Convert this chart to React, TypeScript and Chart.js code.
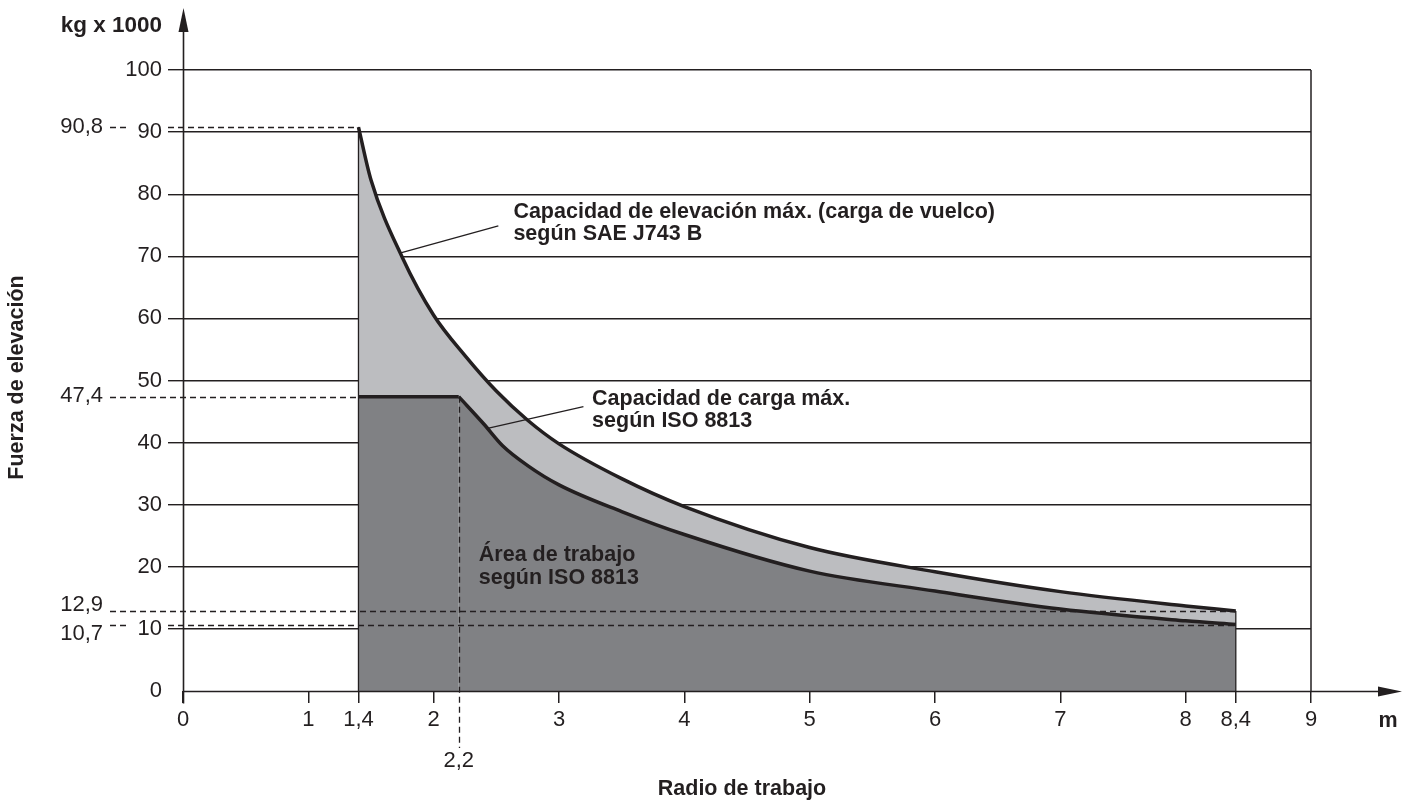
import { useEffect, useRef } from 'react';
import { Chart, registerables } from 'chart.js';

Chart.register(...registerables);

// ---- data ----
const radioUpper = [1.4, 1.5, 1.75, 2.0, 2.25, 2.5, 2.75, 3.0, 3.5, 4.0, 5.0, 6.0, 7.0, 8.0, 8.4];
const fuerzaUpper = [90.8, 82.3, 69.8, 60.5, 54.0, 48.3, 43.6, 39.8, 34.2, 29.7, 23.1, 19.2, 16.0, 13.7, 12.9];
const radioFlat = [1.4, 2.2];
const fuerzaFlat = [47.4, 47.4];
const radioLower = [2.2, 2.4, 2.55, 2.75, 3.0, 3.5, 4.0, 5.0, 6.0, 7.0, 8.0, 8.4];
const fuerzaLower = [47.4, 43.0, 39.5, 36.3, 33.2, 28.9, 25.2, 19.3, 16.1, 13.2, 11.3, 10.7];
const xTickValues = [0, 1, 1.4, 2, 3, 4, 5, 6, 7, 8, 8.4, 9];
const refForces = [90.8, 47.4, 12.9, 10.7];
const refRadii = [1.4, 1.4, 8.4, 8.4];
const refRadius = 2.2;

const INK = '#231f20';
const DARK = '#808184';
const LIGHT = '#bcbdc0';
const FONT = '"Liberation Sans", Arial, Helvetica, sans-serif';

const fmt = (v: number) => String(v).replace('.', ',');
const pts = (xs: number[], ys: number[]) => xs.map((x, i) => ({ x, y: ys[i] }));

const overlay = {
  id: 'overlay',
  afterDatasetsDraw(chart: any) {
    const { ctx } = chart;
    const xs = chart.scales.x;
    const ys = chart.scales.y;
    const px = (v: number) => xs.getPixelForValue(v);
    const py = (v: number) => ys.getPixelForValue(v);
    const seg = (x1: number, y1: number, x2: number, y2: number) => {
      ctx.beginPath();
      ctx.moveTo(x1, y1);
      ctx.lineTo(x2, y2);
      ctx.stroke();
    };
    ctx.save();
    ctx.strokeStyle = INK;
    // thin vertical edges of the area
    ctx.lineWidth = 1.3;
    seg(px(radioUpper[0]), py(0), px(radioUpper[0]), py(fuerzaUpper[0]));
    const last = radioUpper.length - 1;
    seg(px(radioUpper[last]), py(0), px(radioUpper[last]), py(fuerzaUpper[last]));
    // right border at 9
    ctx.lineWidth = 1.5;
    seg(px(9), py(100), px(9), py(0));

    // dashed reference lines
    ctx.setLineDash([6, 4]);
    ctx.lineWidth = 1.3;
    const left = xs.left;
    refForces.forEach((f, i) => {
      const yy = Math.round(py(f)) + 0.5;
      const broken = i === 0 || i === 3;
      if (broken) {
        seg(left - 73, yy, left - 53, yy);
        seg(left - 15, yy, px(refRadii[i]), yy);
      } else {
        seg(left - 73, yy, px(refRadii[i]), yy);
      }
    });
    const xv = Math.round(px(refRadius)) + 0.5;
    seg(xv, py(fuerzaFlat[1]), xv, py(0) + 57);
    ctx.setLineDash([]);

    // labels for reference values
    ctx.fillStyle = INK;
    ctx.font = `22px ${FONT}`;
    ctx.textAlign = 'right';
    ctx.textBaseline = 'middle';
    const offs = [0, -1, -6, 9];
    refForces.forEach((f, i) => {
      ctx.fillText(fmt(f), left - 80, py(f) + offs[i]);
    });
    ctx.textAlign = 'center';
    ctx.fillText(fmt(refRadius), px(refRadius), py(0) + 70);

    // leader lines
    ctx.lineWidth = 1.3;
    seg(px(1.73), py(70.5), px(2.516), py(74.9));
    seg(px(2.43), py(42.3), px(3.195), py(45.8));

    // annotations
    ctx.font = `bold 21.5px ${FONT}`;
    ctx.textAlign = 'left';
    ctx.textBaseline = 'alphabetic';
    const a1x = px(2.636), a1y = py(76.1);
    ctx.fillText('Capacidad de elevación máx. (carga de vuelco)', a1x, a1y);
    ctx.fillText('según SAE J743 B', a1x, a1y + 22);
    const a2x = px(3.264), a2y = py(46.05);
    ctx.fillText('Capacidad de carga máx.', a2x, a2y);
    ctx.fillText('según ISO 8813', a2x, a2y + 22);
    const a3x = px(2.36), a3y = py(21.0);
    ctx.fillText('Área de trabajo', a3x, a3y);
    ctx.fillText('según ISO 8813', a3x, a3y + 23);
    ctx.restore();
  },
  afterDraw(chart: any) {
    const { ctx } = chart;
    const xs = chart.scales.x;
    const ys = chart.scales.y;
    const x0 = Math.round(xs.getPixelForValue(0)) + 0.5;
    const y0 = Math.round(ys.getPixelForValue(0)) + 0.5;
    ctx.save();
    ctx.strokeStyle = INK;
    ctx.fillStyle = INK;
    ctx.lineWidth = 1.6;
    // y axis with arrow
    ctx.beginPath();
    ctx.moveTo(x0, y0 + 12);
    ctx.lineTo(x0, 30);
    ctx.stroke();
    ctx.beginPath();
    ctx.moveTo(x0, 8);
    ctx.lineTo(x0 - 5, 32);
    ctx.lineTo(x0 + 5, 32);
    ctx.closePath();
    ctx.fill();
    // x axis with arrow
    ctx.beginPath();
    ctx.moveTo(x0, y0);
    ctx.lineTo(1380, y0);
    ctx.stroke();
    ctx.beginPath();
    ctx.moveTo(1402, y0);
    ctx.lineTo(1378, y0 - 5);
    ctx.lineTo(1378, y0 + 5);
    ctx.closePath();
    ctx.fill();

    // axis titles
    ctx.font = `bold 22.5px ${FONT}`;
    ctx.textAlign = 'right';
    ctx.textBaseline = 'middle';
    ctx.fillText('kg x 1000', 162, 26);
    ctx.font = `bold 21.5px ${FONT}`;
    ctx.textAlign = 'center';
    ctx.fillText('Radio de trabajo', (xs.left + xs.right) / 2 - 5, 789);
    ctx.fillText('m', 1388, 721);
    ctx.save();
    ctx.translate(17, (ys.top + ys.bottom) / 2 - 3);
    ctx.rotate(-Math.PI / 2);
    ctx.fillText('Fuerza de elevación', 0, 0);
    ctx.restore();
    ctx.restore();
  },
};

export default function App() {
  const ref = useRef<HTMLCanvasElement | null>(null);
  useEffect(() => {
    if (!ref.current) return;
    const chart = new Chart(ref.current, {
      type: 'line',
      data: {
        datasets: [
          {
            label: 'flat',
            data: pts(radioFlat, fuerzaFlat),
            borderColor: INK,
            borderWidth: 3.5,
            backgroundColor: DARK,
            fill: 'origin',
            pointRadius: 0,
            tension: 0,
          },
          {
            label: 'lower',
            data: pts(radioLower, fuerzaLower),
            borderColor: INK,
            borderWidth: 3.5,
            backgroundColor: DARK,
            fill: 'origin',
            pointRadius: 0,
            cubicInterpolationMode: 'monotone',
          },
          {
            label: 'upper',
            data: pts(radioUpper, fuerzaUpper),
            borderColor: INK,
            borderWidth: 3.5,
            backgroundColor: LIGHT,
            fill: 'origin',
            pointRadius: 0,
            cubicInterpolationMode: 'monotone',
          },
        ],
      },
      options: {
        responsive: false,
        animation: false,
        devicePixelRatio: 1,
        layout: { padding: { left: 0, right: 101, top: 70, bottom: 0 } },
        plugins: { legend: { display: false }, tooltip: { enabled: false } },
        scales: {
          x: {
            type: 'linear',
            min: 0,
            max: 9,
            afterBuildTicks: (s: any) => {
              s.ticks = xTickValues.map((v) => ({ value: v }));
            },
            afterFit: (s: any) => {
              s.height = 109;
            },
            ticks: {
              autoSkip: false,
              maxRotation: 0,
              padding: 4,
              color: INK,
              font: { family: FONT, size: 22 },
              callback: (v: any) => fmt(Number(v)),
            },
            grid: {
              drawOnChartArea: false,
              drawTicks: true,
              tickLength: 12,
              color: INK,
              lineWidth: 1.5,
            },
            border: { display: false },
          },
          y: {
            type: 'linear',
            min: 0,
            max: 100,
            afterFit: (s: any) => {
              s.width = 183;
            },
            ticks: {
              stepSize: 10,
              padding: 6,
              color: INK,
              font: { family: FONT, size: 22 },
              callback: (v: any) => String(v),
            },
            grid: {
              drawTicks: true,
              tickLength: 15,
              color: (c: any) => (c.tick && c.tick.value === 0 ? 'rgba(0,0,0,0)' : INK),
              lineWidth: 1.4,
            },
            border: { display: false },
          },
        },
      },
      plugins: [overlay],
    } as any);
    return () => chart.destroy();
  }, []);
  return (
    <div style={{ position: 'absolute', left: 0, top: 0, width: 1412, height: 800, background: '#fff' }}>
      <canvas ref={ref} width={1412} height={800} style={{ display: 'block' }} />
    </div>
  );
}
